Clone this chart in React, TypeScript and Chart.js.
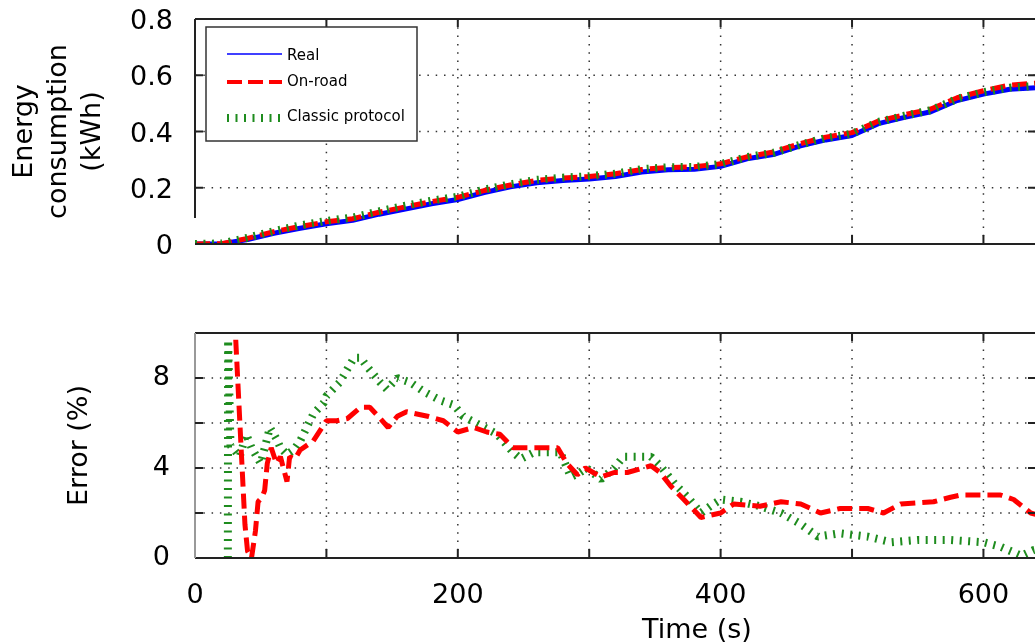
import React, { useEffect, useRef } from 'react';
import { Chart, registerables } from 'chart.js';

Chart.register(...registerables);

// ---------- Data ----------
const energyTime = [0, 20, 40, 60, 80, 100, 120, 140, 160, 180, 200, 220, 240, 260, 280, 300, 320, 340, 360, 380, 400, 420, 440, 460, 480, 500, 520, 540, 560, 580, 600, 620, 640];
const energyReal = [0.0, 0.0, 0.016, 0.038, 0.056, 0.072, 0.084, 0.106, 0.124, 0.143, 0.158, 0.183, 0.203, 0.218, 0.226, 0.231, 0.240, 0.256, 0.264, 0.266, 0.276, 0.303, 0.318, 0.348, 0.370, 0.386, 0.428, 0.450, 0.470, 0.510, 0.533, 0.550, 0.556];
const energyOnRoad = [0.0, 0.001, 0.020, 0.044, 0.062, 0.079, 0.090, 0.113, 0.132, 0.151, 0.166, 0.190, 0.210, 0.226, 0.235, 0.240, 0.250, 0.265, 0.272, 0.275, 0.285, 0.310, 0.327, 0.356, 0.380, 0.396, 0.437, 0.460, 0.480, 0.520, 0.545, 0.565, 0.572];
const energyClassic = [0.0, 0.002, 0.022, 0.046, 0.066, 0.082, 0.094, 0.116, 0.136, 0.154, 0.168, 0.193, 0.212, 0.228, 0.236, 0.241, 0.250, 0.266, 0.273, 0.274, 0.284, 0.309, 0.324, 0.352, 0.377, 0.392, 0.434, 0.456, 0.476, 0.516, 0.540, 0.556, 0.562];

const errOnRoadTime = [31, 35, 38, 40, 43, 46, 48, 51, 53, 55, 58, 62, 65, 70, 72, 76, 80, 90, 100, 108, 116, 126, 133, 141, 147, 154, 161, 177, 189, 200, 212, 222, 232, 242, 253, 260, 268, 276, 283, 291, 297, 309, 319, 329, 347, 354, 362, 372, 385, 392, 400, 410, 430, 446, 461, 476, 491, 512, 524, 537, 562, 575, 583, 613, 623, 636, 642];
const errOnRoad = [9.7, 5.0, 1.5, 0.3, 0.0, 1.2, 2.5, 2.7, 3.0, 4.2, 4.9, 4.2, 4.5, 3.4, 4.5, 4.4, 4.8, 5.2, 6.1, 6.1, 6.2, 6.7, 6.7, 6.2, 5.8, 6.3, 6.5, 6.3, 6.1, 5.6, 5.8, 5.6, 5.5, 4.9, 4.9, 4.9, 4.9, 4.9, 4.2, 3.7, 4.0, 3.6, 3.8, 3.8, 4.1, 3.8, 3.2, 2.6, 1.8, 1.9, 2.0, 2.4, 2.3, 2.5, 2.4, 2.0, 2.2, 2.2, 2.0, 2.4, 2.5, 2.7, 2.8, 2.8, 2.6, 2.0, 1.9];

const errClassicTime = [25, 25.2, 27, 34, 39, 43, 50, 57, 62, 65, 70, 75, 80, 85, 90, 98, 100, 110, 116, 121, 126, 131, 141, 146, 154, 164, 174, 187, 197, 204, 217, 230, 242, 248, 258, 268, 278, 286, 293, 298, 309, 319, 326, 347, 354, 365, 375, 385, 392, 400, 415, 430, 446, 461, 474, 491, 512, 530, 550, 575, 600, 613, 629, 638, 642];
const errClassic = [0.0, 9.7, 5.0, 4.5, 5.5, 4.9, 4.2, 5.8, 5.3, 4.9, 4.6, 4.8, 5.2, 5.8, 6.4, 6.9, 7.2, 7.8, 8.4, 8.9, 8.9, 8.5, 7.8, 7.5, 8.0, 7.8, 7.4, 7.0, 6.8, 6.3, 5.9, 5.5, 4.7, 4.4, 4.7, 4.7, 4.7, 3.6, 3.8, 4.0, 3.5, 4.0, 4.5, 4.5, 4.1, 3.3, 2.7, 2.0, 2.3, 2.6, 2.5, 2.3, 2.0, 1.5, 0.95, 1.1, 0.95, 0.7, 0.8, 0.8, 0.7, 0.5, 0.1, 0.35, 0.4];

const xGridValues = [100, 200, 300, 400, 500, 600];
const topXLabelValues = [100, 200, 300, 400, 500, 600];
const bottomXLabelValues = [0, 200, 400, 600];
const topYGrid = [0.2, 0.4, 0.6];
const topYLabels = ['0', '0.2', '0.4', '0.6', '0.8'];
const bottomYGrid = [2, 4, 6, 8];
const bottomYLabelValues = [0, 4, 8];
const seriesNames = ['Real', 'On-road', 'Classic protocol'];
const topYTitle = ['Energy', 'consumption', '(kWh)'];
const bottomYTitle = 'Error (%)';
const xTitle = 'Time (s)';

// ---------- Styles ----------
const FONT = 'DejaVu Sans';
const BLUE = '#0000ff';
const RED = '#ff0000';
const GREEN = '#1e8c1e';

const toPoints = (xs: number[], ys: number[]) => xs.map((x, i) => ({ x, y: ys[i] }));

const framePlugin = {
  id: 'frame',
  beforeDatasetsDraw(chart: any, _args: any, opts: any) {
    const { ctx, chartArea: a, scales } = chart;
    const x = scales.x;
    const y = scales.y;
    ctx.save();
    ctx.strokeStyle = '#333';
    ctx.lineWidth = 1.5;
    ctx.setLineDash([1.5, 6.8]);
    for (const v of opts.xGrid) {
      const px = x.getPixelForValue(v);
      ctx.beginPath();
      ctx.moveTo(px, a.top);
      ctx.lineTo(px, a.bottom);
      ctx.stroke();
    }
    for (const v of opts.yGrid) {
      const py = y.getPixelForValue(v);
      ctx.beginPath();
      ctx.moveTo(a.left, py);
      ctx.lineTo(a.right, py);
      ctx.stroke();
    }
    ctx.restore();
  },
  afterDatasetsDraw(chart: any, _args: any, opts: any) {
    const { ctx, chartArea: a, scales } = chart;
    const x = scales.x;
    const y = scales.y;
    ctx.save();
    ctx.setLineDash([]);
    ctx.strokeStyle = '#222';
    ctx.lineWidth = 2;
    ctx.beginPath();
    ctx.moveTo(a.left, a.top);
    ctx.lineTo(a.right, a.top);
    ctx.moveTo(a.left, a.bottom);
    ctx.lineTo(a.right, a.bottom);
    ctx.stroke();
    ctx.strokeStyle = opts.leftColor || '#222';
    ctx.beginPath();
    ctx.moveTo(a.left, a.top);
    ctx.lineTo(a.left, opts.leftEnd != null ? opts.leftEnd : a.bottom);
    ctx.stroke();
    ctx.strokeStyle = '#222';
    ctx.beginPath();
    for (const v of opts.xGrid) {
      const px = x.getPixelForValue(v);
      ctx.moveTo(px, a.top);
      ctx.lineTo(px, a.top + 8);
      ctx.moveTo(px, a.bottom);
      ctx.lineTo(px, a.bottom - 9);
    }
    for (const v of opts.yGrid) {
      const py = y.getPixelForValue(v);
      ctx.moveTo(a.left, py);
      ctx.lineTo(a.left + 8, py);
      ctx.moveTo(a.right, py);
      ctx.lineTo(a.right - 8, py);
    }
    ctx.stroke();

    if (opts.legend) {
      const L = opts.legend;
      ctx.fillStyle = '#fff';
      ctx.fillRect(L.x, L.y, L.w, L.h);
      ctx.strokeStyle = '#333';
      ctx.lineWidth = 1.5;
      ctx.strokeRect(L.x, L.y, L.w, L.h);
      L.items.forEach((it: any) => {
        ctx.save();
        ctx.strokeStyle = it.color;
        ctx.lineWidth = it.width;
        ctx.setLineDash(it.dash);
        ctx.lineCap = 'butt';
        ctx.beginPath();
        ctx.moveTo(L.lineX0, it.ly);
        ctx.lineTo(L.lineX1, it.ly);
        ctx.stroke();
        ctx.restore();
        ctx.fillStyle = '#000';
        ctx.font = `15px "${FONT}"`;
        ctx.textAlign = 'left';
        ctx.textBaseline = 'middle';
        ctx.fillText(it.label, L.textX, it.ty);
      });
    }
    if (opts.xTitle) {
      ctx.fillStyle = '#000';
      ctx.font = `27px "${FONT}"`;
      ctx.textAlign = 'center';
      ctx.textBaseline = 'alphabetic';
      ctx.fillText(opts.xTitle.text, opts.xTitle.x, opts.xTitle.y);
    }
    ctx.restore();
  },
};

const tickFont = { family: FONT, size: 27 };

const fixX = (h: number) => (s: any) => {
  s.height = h;
  s.paddingLeft = 0;
  s.paddingRight = 0;
  s.paddingTop = 0;
  s.paddingBottom = 0;
};
const fixY = (w: number) => (s: any) => {
  s.width = w;
  s.paddingTop = 0;
  s.paddingBottom = 0;
  s.paddingLeft = 0;
  s.paddingRight = 0;
};

function makeTopConfig(): any {
  return {
    type: 'line',
    data: {
      datasets: [
        { label: seriesNames[0], data: toPoints(energyTime, energyReal), borderColor: BLUE, borderWidth: 5, pointRadius: 0, tension: 0, fill: false, order: 3, borderJoinStyle: 'round' },
        { label: seriesNames[1], data: toPoints(energyTime, energyOnRoad), borderColor: RED, borderWidth: 5, borderDash: [15, 7], pointRadius: 0, tension: 0, fill: false, order: 2, borderJoinStyle: 'bevel' },
        { label: seriesNames[2], data: toPoints(energyTime, energyClassic), borderColor: GREEN, borderWidth: 8, borderDash: [2, 6.5], pointRadius: 0, tension: 0, fill: false, order: 1, borderJoinStyle: 'bevel' },
      ],
    },
    options: {
      responsive: false,
      animation: false,
      devicePixelRatio: 1,
      layout: { padding: { top: 19, right: 0, left: 0, bottom: 0 } },
      plugins: {
        legend: { display: false },
        tooltip: { enabled: false },
        frame: {
          xGrid: xGridValues,
          yGrid: topYGrid,
          leftEnd: 218,
          legend: {
            x: 206, y: 27, w: 211, h: 114,
            lineX0: 227, lineX1: 282, textX: 287,
            items: [
              { label: seriesNames[0], color: BLUE, width: 1.5, dash: [], ly: 54, ty: 56 },
              { label: seriesNames[1], color: RED, width: 4, dash: [15, 6], ly: 82, ty: 82 },
              { label: seriesNames[2], color: GREEN, width: 8, dash: [2, 6.5], ly: 118, ty: 117 },
            ],
          },
        },
      },
      scales: {
        x: {
          type: 'linear',
          min: 0,
          max: 640,
          afterFit: fixX(15),
          grid: { display: false, drawTicks: false },
          border: { display: false },
          ticks: {
            stepSize: 100,
            includeBounds: false,
            autoSkip: false,
            maxRotation: 0,
            padding: 12,
            color: '#000',
            font: tickFont,
            callback: (v: number) => (topXLabelValues.includes(v) ? String(v) : ''),
          },
        },
        y: {
          type: 'linear',
          min: 0,
          max: 0.8,
          afterFit: fixY(195),
          grid: { display: false, drawTicks: false },
          border: { display: false },
          ticks: {
            stepSize: 0.2,
            padding: 22,
            labelOffset: 3,
            color: '#000',
            font: tickFont,
            callback: (_v: number, i: number) => topYLabels[i],
          },
          title: {
            display: true,
            text: topYTitle,
            color: '#000',
            font: { family: FONT, size: 27, lineHeight: 1.26 },
            padding: { top: 8, bottom: 0 },
          },
        },
      },
    },
    plugins: [framePlugin],
  };
}

function makeBottomConfig(): any {
  return {
    type: 'line',
    data: {
      datasets: [
        { label: seriesNames[1], data: toPoints(errOnRoadTime, errOnRoad), borderColor: RED, borderWidth: 5, borderDash: [15, 7], pointRadius: 0, tension: 0, fill: false, order: 1, borderJoinStyle: 'bevel' },
        { label: seriesNames[2], data: toPoints(errClassicTime, errClassic), borderColor: GREEN, borderWidth: 8, borderDash: [2, 6.5], pointRadius: 0, tension: 0, fill: false, order: 2, borderJoinStyle: 'bevel' },
      ],
    },
    options: {
      responsive: false,
      animation: false,
      devicePixelRatio: 1,
      layout: { padding: { top: 33, right: 0, left: 0, bottom: 0 } },
      plugins: {
        legend: { display: false },
        tooltip: { enabled: false },
        frame: {
          xGrid: xGridValues,
          yGrid: bottomYGrid,
          leftColor: '#999',
          xTitle: { text: xTitle, x: 697, y: 338 },
        },
      },
      scales: {
        x: {
          type: 'linear',
          min: 0,
          max: 640,
          afterFit: fixX(85),
          grid: { display: false, drawTicks: false },
          border: { display: false },
          ticks: {
            stepSize: 100,
            includeBounds: false,
            autoSkip: false,
            maxRotation: 0,
            padding: 22,
            color: '#000',
            font: tickFont,
            callback: (v: number) => (bottomXLabelValues.includes(v) ? String(v) : ''),
          },
        },
        y: {
          type: 'linear',
          min: 0,
          max: 10,
          afterFit: fixY(195),
          grid: { display: false, drawTicks: false },
          border: { display: false },
          ticks: {
            stepSize: 2,
            padding: 25,
            color: '#000',
            font: tickFont,
            callback: (v: number) => (bottomYLabelValues.includes(v) ? String(v) : ''),
          },
          title: {
            display: true,
            text: bottomYTitle,
            color: '#000',
            font: { family: FONT, size: 27, lineHeight: 1.26 },
            padding: { top: 63, bottom: 0 },
          },
        },
      },
    },
    plugins: [framePlugin],
  };
}

export default function App() {
  const topRef = useRef<HTMLCanvasElement | null>(null);
  const bottomRef = useRef<HTMLCanvasElement | null>(null);

  useEffect(() => {
    const top = new Chart(topRef.current as HTMLCanvasElement, makeTopConfig());
    const bottom = new Chart(bottomRef.current as HTMLCanvasElement, makeBottomConfig());
    return () => {
      top.destroy();
      bottom.destroy();
    };
  }, []);

  return (
    <div style={{ position: 'absolute', left: 0, top: 0, width: 1035, height: 643, overflow: 'hidden', background: '#fff' }}>
      <canvas ref={topRef} width={1036} height={259} style={{ position: 'absolute', left: 0, top: 0, width: 1036, height: 259 }} />
      <canvas ref={bottomRef} width={1036} height={343} style={{ position: 'absolute', left: 0, top: 300, width: 1036, height: 343 }} />
    </div>
  );
}
